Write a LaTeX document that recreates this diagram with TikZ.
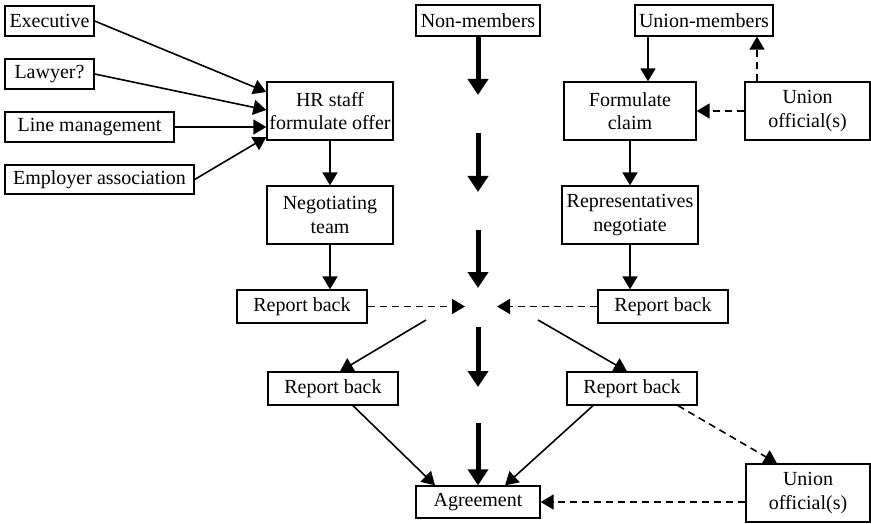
\documentclass[tikz,border=0pt]{standalone}
\usepackage{fontspec}
\setmainfont{Liberation Serif}
\usetikzlibrary{arrows.meta}
\begin{document}
\begin{tikzpicture}[x=1pt,y=-1pt,
  box/.style={draw,line width=1.3pt,inner sep=0pt,align=center,
    font=\fontsize{20}{23.5}\selectfont},
  arr/.style={line width=1.6pt,-{Triangle[length=13pt,width=15pt]}},
  darr/.style={arr,dash pattern=on 7pt off 5pt},
  bigarr/.style={line width=5pt,-{Triangle[length=16pt,width=20pt]}}]
\useasboundingbox (0,0) rectangle (871,524);

% management side
\node[box,minimum width=89pt,minimum height=30pt]  (exec)  at (49.5,21)   {Executive};
\node[box,minimum width=89pt,minimum height=30pt]  (law)   at (49.5,74)   {Lawyer?};
\node[box,minimum width=169pt,minimum height=30pt] (linem) at (89.5,127)  {Line management};
\node[box,minimum width=189pt,minimum height=29pt] (empl)  at (99.5,179.5){Employer association};
\node[box,minimum width=126pt,minimum height=58pt] (hr)    at (330,111)   {HR staff\\formulate offer};
\node[box,minimum width=126pt,minimum height=58pt] (neg)   at (330,215)   {Negotiating\\team};
\node[box,minimum width=130pt,minimum height=33pt] (rbl1)  at (302,306.5) {Report back};
\node[box,minimum width=130pt,minimum height=33pt] (rbl2)  at (333,388.5) {Report back};

% centre column
\node[box,minimum width=124pt,minimum height=31pt] (nonm)  at (478,20.5)  {Non-members};
\node[box,minimum width=124pt,minimum height=32pt] (agree) at (478,502)   {Agreement};

% union side
\node[box,minimum width=138pt,minimum height=31pt] (unm)   at (704,20.5)  {Union-members};
\node[box,minimum width=132pt,minimum height=58pt] (fclaim) at (630,111)  {Formulate\\claim};
\node[box,minimum width=125pt,minimum height=58pt] (uoff1) at (807.5,111) {Union\\official(s)};
\node[box,minimum width=136pt,minimum height=58pt] (rep)   at (630,215)   {Representatives\\negotiate};
\node[box,minimum width=130pt,minimum height=33pt] (rbr1)  at (663,306.5) {Report back};
\node[box,minimum width=130pt,minimum height=33pt] (rbr2)  at (632,388.5) {Report back};
\node[box,minimum width=124pt,minimum height=58pt] (uoff2) at (808,493)   {Union\\official(s)};

% free ends around the meeting point
\coordinate (tl) at (465,306.5);
\coordinate (tr) at (497,306.5);
\coordinate (cl) at (426,320);
\coordinate (cr) at (538,320);

% thick central flow
\coordinate (c1) at (478,95);
\coordinate (c2) at (478,133);
\coordinate (c3) at (478,192);
\coordinate (c4) at (478,230);
\coordinate (c5) at (478,288);
\coordinate (c6) at (478,327);
\coordinate (c7) at (478,387);
\coordinate (c8) at (478,423);
\draw[bigarr] (nonm.south) -- (c1);
\draw[bigarr] (c2) -- (c3);
\draw[bigarr] (c4) -- (c5);
\draw[bigarr] (c6) -- (c7);
\draw[bigarr] (c8) -- (agree.north);

% management arrows
\draw[arr] (exec.east)  -- ([yshift=19pt]hr.west);
\draw[arr] (law.east)   -- ([yshift=1pt]hr.west);
\draw[arr] (linem.east) -- ([yshift=-16pt]hr.west);
\draw[arr] (empl.east)  -- ([yshift=-26pt]hr.west);
\draw[arr] (hr.south) -- (neg.north);
\draw[arr] (neg.south) -- (neg.south |- rbl1.north);
\draw[darr] (rbl1.east) -- (tl);
\draw[arr] (cl) -- ([xshift=7pt]rbl2.north);
\draw[arr] ([xshift=20pt]rbl2.south) -- ([xshift=-43pt]agree.north);

% union arrows
\draw[arr] ([xshift=-56pt]unm.south) coordinate (u1) -- (u1 |- fclaim.north);
\draw[darr] (uoff1.west) -- (fclaim.east);
\draw[darr] ([xshift=-50.5pt]uoff1.north) coordinate (u2) -- (u2 |- unm.south);
\draw[arr] (fclaim.south) -- (rep.north);
\draw[arr] (rep.south) -- (rep.south |- rbr1.north);
\draw[darr] (rbr1.west) -- (tr);
\draw[arr] (cr) -- ([xshift=-5pt]rbr2.north);
\draw[arr] ([xshift=-39pt]rbr2.south) -- ([xshift=27pt]agree.north);
\draw[darr] ([xshift=46pt]rbr2.south) -- ([xshift=-31pt]uoff2.north);
\draw[darr] (uoff2.west |- agree.east) -- (agree.east);
\end{tikzpicture}
\end{document}
